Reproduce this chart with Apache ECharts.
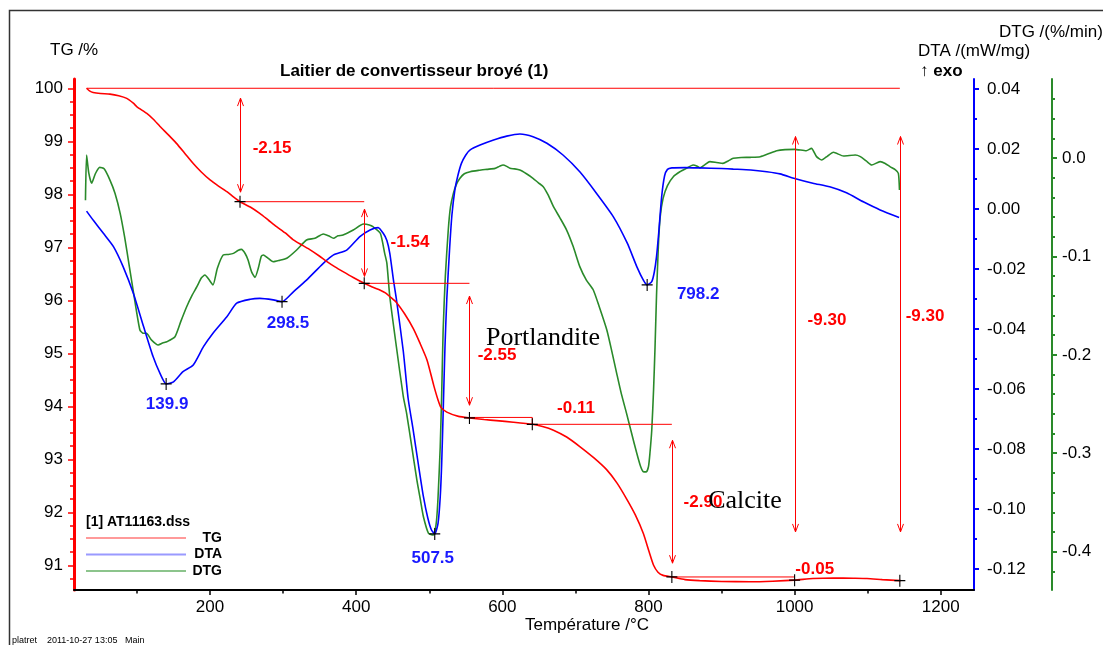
<!DOCTYPE html>
<html><head><meta charset="utf-8">
<script src="https://cdn.jsdelivr.net/npm/echarts@6/dist/echarts.min.js"></script>
<style>html,body{margin:0;padding:0;background:#fff;}#c{width:1103px;height:645px;}</style>
</head><body><div id="c"></div>
<script>
const FONT = '"Liberation Sans", Arial, Helvetica, sans-serif';
const SERIF = '"Liberation Serif", "Times New Roman", serif';

// ---- data ----
const tgData = [[31,100.0],[35,99.95],[40,99.92],[50,99.9],[63,99.89],[75,99.86],[86,99.81],[95,99.72],[100,99.65],[113,99.53],[122,99.42],[131.5,99.28],[143,99.12],[154,98.96],[165,98.78],[177,98.58],[188,98.42],[200,98.27],[212,98.15],[223,98.05],[232,97.95],[241,97.86],[255,97.76],[268,97.64],[280,97.51],[291,97.39],[303,97.27],[314,97.14],[326,97.04],[337,96.95],[349,96.84],[360,96.73],[371,96.63],[382,96.54],[396,96.43],[411,96.32],[422,96.25],[433,96.19],[440,96.14],[446,96.07],[455,95.96],[466,95.75],[478,95.47],[487,95.2],[497,94.87],[506,94.4],[512,94.12],[516,93.98],[524,93.89],[540,93.81],[555,93.78],[575,93.75],[592,93.73],[615,93.70],[641,93.66],[655,93.62],[670,93.55],[688,93.42],[706,93.24],[725,93.03],[743,92.8],[757,92.55],[771,92.23],[782,91.95],[793,91.6],[801,91.25],[807,91.0],[813,90.87],[820,90.81],[832,90.78],[850,90.73],[870,90.71],[900,90.695],[939,90.69],[970,90.70],[1000,90.72],[1025,90.75],[1053,90.76],[1080,90.755],[1099,90.75],[1120,90.73],[1145,90.71]];

const dtaData = [[31,-0.0007],[40,-0.0037],[54,-0.0081],[68,-0.0126],[81,-0.0192],[95,-0.0281],[109,-0.0392],[122,-0.0492],[131.5,-0.0548],[139.9,-0.0583],[150,-0.0576],[163,-0.0542],[177,-0.052],[191,-0.0459],[204,-0.0414],[223,-0.0359],[236.5,-0.0314],[255,-0.0301],[268,-0.0298],[286.5,-0.0303],[298.5,-0.0309],[314,-0.0276],[332,-0.0237],[355,-0.0181],[369,-0.0153],[387,-0.0137],[405,-0.0092],[419,-0.007],[430,-0.0062],[437,-0.0081],[442,-0.0105],[446,-0.0148],[451,-0.0237],[455,-0.03],[464.5,-0.0475],[471,-0.063],[478,-0.0737],[485,-0.085],[492,-0.0959],[498,-0.103],[503,-0.107],[507.5,-0.1083],[512,-0.1048],[515,-0.096],[517,-0.0848],[519,-0.068],[521.5,-0.0459],[524,-0.03],[528,-0.0126],[531,-0.002],[535,0.0063],[539,0.011],[544,0.0152],[550,0.018],[556,0.0197],[569.5,0.0213],[588,0.023],[606,0.0243],[624,0.025],[642,0.0241],[661,0.0219],[683,0.018],[706,0.0124],[729,0.0052],[752,-0.0026],[771,-0.0114],[784,-0.0192],[793,-0.0237],[798.2,-0.0253],[804.5,-0.0242],[808,-0.021],[811,-0.0159],[814,-0.008],[818,0.004],[822,0.011],[826,0.0132],[832,0.0137],[850,0.0138],[870,0.0137],[900,0.0135],[916,0.0133],[940,0.013],[962,0.0124],[980,0.0117],[1000,0.0102],[1025,0.0086],[1048,0.0074],[1071,0.0054],[1094,0.0024],[1117,-0.0003],[1143,-0.0028]];

const dtgData = [[29.5,-0.043],[31,0.003],[34,-0.015],[38,-0.0257],[43,-0.016],[49,-0.0095],[55,-0.011],[63,-0.0224],[70,-0.036],[77,-0.0562],[83,-0.08],[89.5,-0.110],[97,-0.145],[104,-0.1748],[108,-0.178],[113,-0.1782],[120,-0.185],[129,-0.19],[135,-0.188],[141,-0.1867],[152,-0.1816],[160,-0.166],[168,-0.1511],[175,-0.14],[182,-0.1308],[188,-0.122],[193,-0.1189],[198,-0.123],[204,-0.129],[210,-0.112],[218,-0.0986],[225,-0.098],[232,-0.0969],[238,-0.094],[243,-0.0928],[248,-0.097],[252,-0.1037],[257,-0.116],[261.5,-0.1213],[266,-0.112],[270,-0.1],[273,-0.0986],[278,-0.101],[286.5,-0.1054],[295,-0.104],[305,-0.1019],[318.5,-0.0935],[332,-0.0833],[343.5,-0.0816],[355,-0.0772],[362,-0.079],[369,-0.0816],[375,-0.079],[382,-0.0783],[396,-0.0732],[410,-0.0671],[418,-0.068],[423,-0.0698],[433,-0.0765],[439,-0.0969],[442,-0.107],[446,-0.141],[455,-0.1918],[464.5,-0.2426],[469,-0.2595],[476,-0.293],[483,-0.3272],[488,-0.348],[492,-0.3645],[499,-0.3814],[505.5,-0.3831],[508,-0.378],[510,-0.3679],[512,-0.345],[515,-0.2934],[517,-0.24],[519,-0.1748],[522,-0.12],[526,-0.0732],[529,-0.05],[533,-0.0359],[537,-0.027],[542,-0.0206],[548,-0.016],[556,-0.0139],[568,-0.0125],[579,-0.0115],[590,-0.0105],[596,-0.0085],[601,-0.0071],[606,-0.0085],[610.5,-0.0105],[617,-0.011],[624,-0.0122],[633,-0.016],[642,-0.0206],[649,-0.025],[656,-0.0291],[663,-0.038],[670,-0.0495],[679,-0.061],[688,-0.0732],[697,-0.09],[706,-0.1104],[715,-0.124],[724.5,-0.1341],[733,-0.152],[743,-0.1748],[750,-0.197],[756.5,-0.2188],[763,-0.24],[770,-0.2595],[777,-0.28],[784,-0.3001],[789,-0.313],[793,-0.3188],[797,-0.319],[800,-0.3137],[802,-0.3],[804.5,-0.2764],[807,-0.235],[809,-0.1918],[811,-0.14],[813.5,-0.0901],[816,-0.06],[820,-0.041],[826,-0.028],[834,-0.019],[843,-0.014],[852,-0.0105],[861,-0.0071],[866,-0.008],[870.5,-0.01],[877,-0.007],[884,-0.0037],[893,-0.0045],[902,-0.0054],[909,-0.003],[916,-0.0003],[927,0.0005],[939,0.0007],[953,0.0013],[965,0.0045],[975.5,0.0074],[987,0.0085],[1000,0.0088],[1016,0.0074],[1023,0.0098],[1030,0.0014],[1037,-0.002],[1045,0.002],[1053,0.0058],[1067,0.002],[1083,0.003],[1090,0.0014],[1098,-0.003],[1105.5,-0.0071],[1117,-0.0037],[1124,-0.0055],[1130.5,-0.0088],[1138,-0.012],[1142,-0.0156],[1143.5,-0.0325]];

// tick values
const xMajorTicks = [200,400,600,800,1000,1200];
const xMinorTicks = [100,300,500,700,900,1100];
const tgMajorTicks = [91,92,93,94,95,96,97,98,99,100];
const tgMinorTicks = [90.75,91.25,91.5,91.75,92.25,92.5,92.75,93.25,93.5,93.75,94.25,94.5,94.75,95.25,95.5,95.75,96.25,96.5,96.75,97.25,97.5,97.75,98.25,98.5,98.75,99.25,99.5,99.75];
const dtaMajorTicks = [-0.12,-0.10,-0.08,-0.06,-0.04,-0.02,0,0.02,0.04];
const dtaMinorTicks = [-0.11,-0.09,-0.07,-0.05,-0.03,-0.01,0.01,0.03];
const dtgMajorTicks = [-0.4,-0.3,-0.2,-0.1,0];
const dtgMinorTicks = [-0.42,-0.38,-0.36,-0.34,-0.32,-0.28,-0.26,-0.24,-0.22,-0.18,-0.16,-0.14,-0.12,-0.08,-0.06,-0.04,-0.02,0.02,0.04,0.06];

// DTA peaks
const peakTemps = [139.9, 298.5, 507.5, 798.2];
const peakDta = [-0.0583, -0.0309, -0.1083, -0.0253];

// TG step evaluation
const stepTemps = [241, 411, 555, 641, 832, 1000, 1144];
const stepTg = [97.86, 96.32, 93.78, 93.66, 90.78, 90.72, 90.71];
const stepLabels = ['-2.15','-1.54','-2.55','-0.11','-2.90','-9.30','-9.30','-0.05'];
const stepLabelTemps = [284.8, 473.6, 592.7, 700.8, 874.6, 1044.3, 1178.5, 1027.5];
const stepLabelTg = [98.87, 97.10, 94.97, 93.97, 92.19, 95.63, 95.70, 90.93];
// reference lines [T1, T2, TG]
const hLines = [[31,1144,100],[241,411,97.86],[411,555,96.32],[555,641,93.79],[641,832,93.66],[832,1000,90.78]];
const vLines = [[641,93.79,93.66]];
// double arrows [T, TGtop, TGbottom]
const arrows = [[241,99.815,98.04],[411,97.72,96.45],[555,96.08,94.02],[832,93.36,91.04],[1000,99.09,91.63],[1144,99.09,91.63]];
// mineral annotations
const mineralNames = ['Portlandite','Calcite'];
const mineralTemps = [655.7, 932.1];
const mineralTg = [95.28, 92.21];

// ---- styles ----
const RED = '#ff0000', BLUE = '#0000ff', GREEN = '#2a8a2a';
const peakLabelOffsets = [[1,20],[6,22],[-2,24],[51,9]];
const CROSS = 'path://M4.5,0H5.5V4.5H10V5.5H5.5V10H4.5V5.5H0V4.5H4.5Z';

const chart = echarts.init(document.getElementById('c'), null, {renderer:'canvas'});

function valAxis(o){
  return Object.assign({type:'value', scale:false, splitLine:{show:false}, axisPointer:{show:false}}, o);
}

const option = {
  animation:false,
  backgroundColor:'#fff',
  title:{text:'Laitier de convertisseur broyé (1)', left:280, top:63, padding:0,
    textStyle:{fontFamily:FONT, fontSize:17, fontWeight:'bold', color:'#000'}},
  grid:{left:74, right:129, top:79, bottom:55, containLabel:false, outerBoundsMode:'none'},
  legend:{left:86, top:531, padding:0, orient:'vertical', itemWidth:100, itemHeight:2, itemGap:2.5, icon:'rect',
    selectedMode:false,
    data:[{name:'TG', itemStyle:{color:'#ff9a9a'}},{name:'DTA', itemStyle:{color:'#9a9aff'}},{name:'DTG', itemStyle:{color:'#8cc48c'}}],
    formatter: n => '{r|' + n + '}',
    textStyle:{rich:{r:{width:31, align:'right', fontWeight:'bold', fontSize:14, fontFamily:FONT, color:'#000'}}}
  },
  xAxis:[
    valAxis({min:13.8, max:1245.5, position:'bottom',
      axisLine:{show:true, onZero:false, lineStyle:{color:'#000', width:2}},
      axisTick:{show:true, length:5, lineStyle:{color:'#000', width:1.5}, customValues:xMajorTicks},
      axisLabel:{show:true, margin:9, fontSize:17, fontFamily:FONT, color:'#000', customValues:xMajorTicks, formatter:v=>String(Math.round(v))}}),
    valAxis({min:13.8, max:1245.5, position:'bottom',
      axisLine:{show:false, onZero:false}, axisLabel:{show:false},
      axisTick:{show:true, length:3.5, lineStyle:{color:'#000', width:1.5}, customValues:xMinorTicks}})
  ],
  yAxis:[
    valAxis({min:90.534, max:100.175, position:'left',
      axisLine:{show:true, onZero:false, lineStyle:{color:RED, width:3}},
      axisTick:{show:true, length:6, lineStyle:{color:RED, width:1.5}, customValues:tgMajorTicks},
      axisLabel:{show:true, margin:11, fontSize:17, fontFamily:FONT, color:'#000', customValues:tgMajorTicks, formatter:v=>String(Math.round(v))}}),
    valAxis({min:90.534, max:100.175, position:'left',
      axisLine:{show:false, onZero:false}, axisLabel:{show:false},
      axisTick:{show:true, length:4, lineStyle:{color:RED, width:1.5}, customValues:tgMinorTicks}}),
    valAxis({min:-0.127, max:0.043333, position:'right',
      axisLine:{show:true, onZero:false, lineStyle:{color:BLUE, width:2}},
      axisTick:{show:true, length:5, lineStyle:{color:BLUE, width:2}, customValues:dtaMajorTicks},
      axisLabel:{show:true, margin:13, fontSize:17, fontFamily:FONT, color:'#000', customValues:dtaMajorTicks, formatter:v=>v.toFixed(2)}}),
    valAxis({min:-0.127, max:0.043333, position:'right',
      axisLine:{show:false, onZero:false}, axisLabel:{show:false},
      axisTick:{show:true, length:3, lineStyle:{color:BLUE, width:2}, customValues:dtaMinorTicks}}),
    valAxis({min:-0.439, max:0.0803, position:'right', offset:78,
      axisLine:{show:true, onZero:false, lineStyle:{color:GREEN, width:2}},
      axisTick:{show:true, length:5, lineStyle:{color:GREEN, width:2}, customValues:dtgMajorTicks},
      axisLabel:{show:true, margin:10, fontSize:17, fontFamily:FONT, color:'#000', customValues:dtgMajorTicks, formatter:v=>v.toFixed(1)}}),
    valAxis({min:-0.439, max:0.0803, position:'right', offset:78,
      axisLine:{show:false, onZero:false}, axisLabel:{show:false},
      axisTick:{show:true, length:3, lineStyle:{color:GREEN, width:2}, customValues:dtgMinorTicks}})
  ],
  graphic:[
    {type:'rect', silent:true, z:-10, shape:{x:9.5, y:10.5, width:1300, height:800}, style:{fill:'none', stroke:'#333', lineWidth:1.5}},
    {type:'text', silent:true, x:50, y:50, style:{text:'TG /%', font:'17px '+FONT, fill:'#000', verticalAlign:'middle'}},
    {type:'text', silent:true, x:918, y:51, style:{text:'DTA /(mW/mg)', font:'17px '+FONT, fill:'#000', verticalAlign:'middle'}},
    {type:'text', silent:true, x:920, y:71, style:{text:'{a|↑ }{b|exo}', verticalAlign:'middle', rich:{a:{fontSize:17, fontFamily:FONT, color:'#000'}, b:{fontSize:17, fontWeight:'bold', fontFamily:FONT, color:'#000'}}}},
    {type:'text', silent:true, x:999, y:32, style:{text:'DTG /(%/min)', font:'17px '+FONT, fill:'#000', verticalAlign:'middle'}},
    {type:'text', silent:true, x:525, y:625, style:{text:'Température /°C', font:'17px '+FONT, fill:'#000', verticalAlign:'middle'}},
    {type:'text', silent:true, x:86, y:522, style:{text:'[1] AT11163.dss', font:'bold 14px '+FONT, fill:'#000', verticalAlign:'middle'}},
    {type:'text', silent:true, x:12, y:641, style:{text:'platret', font:'9px '+FONT, fill:'#000', verticalAlign:'middle'}},
    {type:'text', silent:true, x:47, y:641, style:{text:'2011-10-27 13:05', font:'9px '+FONT, fill:'#000', verticalAlign:'middle'}},
    {type:'text', silent:true, x:125, y:641, style:{text:'Main', font:'9px '+FONT, fill:'#000', verticalAlign:'middle'}}
  ],
  series:[
    {name:'TG', type:'line', xAxisIndex:0, yAxisIndex:0, data:tgData, showSymbol:false, symbol:'none',
      smooth:0.2, lineStyle:{color:RED, width:1.6}, itemStyle:{color:RED}, z:5},
    {name:'DTA', type:'line', xAxisIndex:0, yAxisIndex:2, data:dtaData, showSymbol:false, symbol:'none',
      smooth:0.2, lineStyle:{color:BLUE, width:1.6}, itemStyle:{color:BLUE}, z:4},
    {name:'DTG', type:'line', xAxisIndex:0, yAxisIndex:4, data:dtgData, showSymbol:false, symbol:'none',
      smooth:0.2, lineStyle:{color:GREEN, width:1.6}, itemStyle:{color:GREEN}, z:3},
    // horizontal reference lines
    {type:'custom', xAxisIndex:0, yAxisIndex:0, data:hLines, encode:{x:[0,1], y:2}, silent:true, z:6,
      renderItem:(params, api)=>{
        const p1 = api.coord([api.value(0), api.value(2)]);
        const p2 = api.coord([api.value(1), api.value(2)]);
        return {type:'line', shape:{x1:p1[0], y1:p1[1], x2:p2[0], y2:p2[1]}, style:{stroke:RED, lineWidth:1}};
      }},
    {type:'custom', xAxisIndex:0, yAxisIndex:0, data:vLines, encode:{x:0, y:[1,2]}, silent:true, z:6,
      renderItem:(params, api)=>{
        const p1 = api.coord([api.value(0), api.value(1)]);
        const p2 = api.coord([api.value(0), api.value(2)]);
        return {type:'line', shape:{x1:p1[0], y1:p1[1], x2:p2[0], y2:p2[1]}, style:{stroke:RED, lineWidth:1}};
      }},
    // double arrows
    {type:'custom', xAxisIndex:0, yAxisIndex:0, data:arrows, encode:{x:0, y:[1,2]}, silent:true, z:6,
      renderItem:(params, api)=>{
        const t = api.coord([api.value(0), api.value(1)]);
        const b = api.coord([api.value(0), api.value(2)]);
        const x = Math.round(t[0]) + 0.5;
        const st = {stroke:RED, lineWidth:1, fill:'none'};
        return {type:'group', children:[
          {type:'line', shape:{x1:x, y1:t[1], x2:x, y2:b[1]}, style:st},
          {type:'polyline', shape:{points:[[x-3, t[1]+8],[x, t[1]],[x+3, t[1]+8]]}, style:st},
          {type:'polyline', shape:{points:[[x-3, b[1]-8],[x, b[1]],[x+3, b[1]-8]]}, style:st}
        ]};
      }},
    // TG step crosses
    {type:'scatter', xAxisIndex:0, yAxisIndex:0, silent:true, z:7,
      data: stepTemps.map((t,i)=>[t, stepTg[i]]),
      symbol:CROSS, symbolSize:[11,12], itemStyle:{color:'#000', opacity:1}},
    // TG step labels
    {type:'scatter', xAxisIndex:0, yAxisIndex:0, silent:true, z:8,
      data: stepLabelTemps.map((t,i)=>({value:[t, stepLabelTg[i]], name:stepLabels[i]})),
      symbol:'circle', symbolSize:1, itemStyle:{color:'rgba(0,0,0,0)', opacity:1},
      label:{show:true, position:'inside', formatter:p=>p.name, color:RED, opacity:1, fontWeight:'bold', fontSize:17, fontFamily:FONT}},
    // DTA peak crosses + labels
    {type:'scatter', xAxisIndex:0, yAxisIndex:2, silent:true, z:7,
      data: peakTemps.map((t,i)=>({value:[t, peakDta[i]], label:{offset:peakLabelOffsets[i]}})),
      symbol:CROSS, symbolSize:[11,12], itemStyle:{color:'#000', opacity:1},
      label:{show:true, position:'inside', formatter:p=>p.value[0].toFixed(1), color:'#1a1aff', opacity:1, fontWeight:'bold', fontSize:17, fontFamily:FONT}},
    // mineral names
    {type:'scatter', xAxisIndex:0, yAxisIndex:0, silent:true, z:9,
      data: mineralTemps.map((t,i)=>({value:[t, mineralTg[i]], name:mineralNames[i]})),
      symbol:'circle', symbolSize:1, itemStyle:{color:'rgba(0,0,0,0)', opacity:1},
      label:{show:true, position:'inside', formatter:p=>p.name, color:'#000', opacity:1, fontSize:26, fontFamily:SERIF}}
  ]
};
chart.setOption(option);
</script>
</body></html>
